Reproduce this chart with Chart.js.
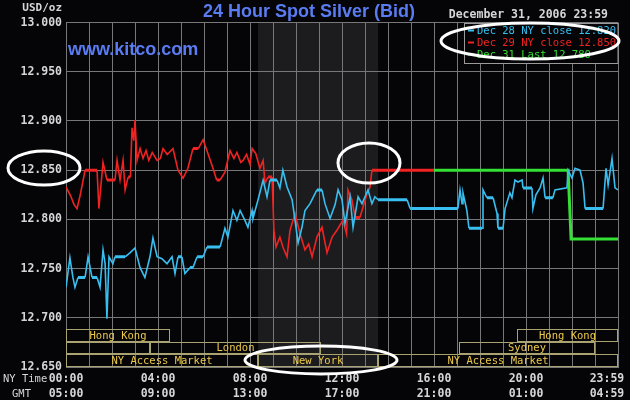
<!DOCTYPE html>
<html>
<head>
<meta charset="utf-8">
<title>24 Hour Spot Silver (Bid)</title>
<script src="https://cdn.jsdelivr.net/npm/chart.js@4.4.1/dist/chart.umd.min.js"></script>
<style>
	html, body { margin: 0; padding: 0; background: #050508; }
</style>
</head>
<body>
<canvas id="silverChart" width="630" height="400"></canvas>
<script>
// Axis labels (NY time and GMT, every 4 hours)
const nyTimeLabels = [ '00:00', '04:00', '08:00', '12:00', '16:00', '20:00', '23:59' ];
const gmtLabels = [ '05:00', '09:00', '13:00', '17:00', '21:00', '01:00', '04:59' ];
const priceMin = 12.65;
const priceMax = 13.0;
const priceStep = 0.05;

// Series: [hour of NY day, price]
const dec28Prices = [
	[ 0.00, 12.731 ], [ 0.17, 12.761 ], [ 0.30, 12.741 ], [ 0.39, 12.731 ], [ 0.52, 12.741 ],
	[ 0.83, 12.741 ], [ 0.96, 12.762 ], [ 1.13, 12.741 ], [ 1.35, 12.741 ], [ 1.48, 12.731 ],
	[ 1.61, 12.769 ], [ 1.70, 12.755 ], [ 1.78, 12.699 ], [ 1.87, 12.762 ], [ 2.04, 12.755 ],
	[ 2.13, 12.762 ], [ 2.57, 12.762 ], [ 2.78, 12.766 ], [ 3.00, 12.771 ], [ 3.22, 12.751 ],
	[ 3.43, 12.741 ], [ 3.65, 12.762 ], [ 3.78, 12.781 ], [ 3.96, 12.762 ], [ 4.17, 12.760 ],
	[ 4.39, 12.755 ], [ 4.61, 12.762 ], [ 4.74, 12.745 ], [ 4.87, 12.762 ], [ 5.04, 12.762 ],
	[ 5.17, 12.745 ], [ 5.39, 12.751 ], [ 5.52, 12.751 ], [ 5.70, 12.762 ], [ 5.96, 12.762 ],
	[ 6.13, 12.772 ], [ 6.70, 12.772 ], [ 6.91, 12.791 ], [ 7.04, 12.782 ], [ 7.26, 12.809 ],
	[ 7.43, 12.799 ], [ 7.57, 12.809 ], [ 7.78, 12.799 ], [ 7.91, 12.792 ], [ 8.09, 12.809 ],
	[ 8.13, 12.801 ], [ 8.35, 12.820 ], [ 8.57, 12.840 ], [ 8.74, 12.823 ], [ 8.87, 12.840 ],
	[ 9.17, 12.840 ], [ 9.30, 12.832 ], [ 9.43, 12.850 ], [ 9.61, 12.833 ], [ 9.83, 12.820 ],
	[ 9.96, 12.799 ], [ 10.09, 12.776 ], [ 10.26, 12.792 ], [ 10.39, 12.809 ], [ 10.61, 12.816 ],
	[ 10.91, 12.830 ], [ 11.13, 12.830 ], [ 11.26, 12.816 ], [ 11.48, 12.801 ], [ 11.70, 12.815 ],
	[ 11.83, 12.830 ], [ 12.00, 12.820 ], [ 12.13, 12.796 ], [ 12.35, 12.823 ], [ 12.48, 12.792 ],
	[ 12.70, 12.823 ], [ 12.87, 12.816 ], [ 13.00, 12.823 ], [ 13.13, 12.830 ], [ 13.30, 12.816 ],
	[ 13.43, 12.823 ], [ 13.57, 12.820 ], [ 14.83, 12.820 ], [ 14.96, 12.811 ], [ 17.04, 12.811 ],
	[ 17.13, 12.830 ], [ 17.22, 12.816 ], [ 17.26, 12.827 ], [ 17.43, 12.809 ], [ 17.52, 12.791 ],
	[ 18.09, 12.791 ], [ 18.13, 12.830 ], [ 18.30, 12.822 ], [ 18.57, 12.822 ], [ 18.74, 12.806 ],
	[ 18.78, 12.791 ], [ 19.00, 12.791 ], [ 19.09, 12.811 ], [ 19.30, 12.827 ], [ 19.39, 12.822 ],
	[ 19.52, 12.840 ], [ 19.65, 12.838 ], [ 19.83, 12.840 ], [ 19.87, 12.832 ], [ 20.26, 12.832 ],
	[ 20.30, 12.811 ], [ 20.43, 12.825 ], [ 20.61, 12.832 ], [ 20.74, 12.842 ], [ 20.83, 12.822 ],
	[ 21.17, 12.822 ], [ 21.26, 12.830 ], [ 21.78, 12.832 ], [ 21.83, 12.850 ], [ 22.00, 12.842 ],
	[ 22.13, 12.852 ], [ 22.35, 12.850 ], [ 22.48, 12.837 ], [ 22.57, 12.811 ], [ 23.35, 12.811 ],
	[ 23.48, 12.852 ], [ 23.57, 12.835 ], [ 23.74, 12.862 ], [ 23.87, 12.832 ], [ 24.00, 12.830 ],
];
const dec29Prices = [
	[ 0.00, 12.833 ], [ 0.20, 12.824 ], [ 0.35, 12.815 ], [ 0.48, 12.811 ], [ 0.62, 12.825 ],
	[ 0.83, 12.850 ], [ 1.35, 12.850 ], [ 1.43, 12.811 ], [ 1.52, 12.835 ], [ 1.61, 12.858 ],
	[ 1.78, 12.840 ], [ 2.13, 12.840 ], [ 2.22, 12.860 ], [ 2.35, 12.840 ], [ 2.48, 12.860 ],
	[ 2.57, 12.830 ], [ 2.70, 12.843 ], [ 2.80, 12.843 ], [ 2.87, 12.893 ], [ 2.95, 12.880 ],
	[ 3.00, 12.901 ], [ 3.09, 12.860 ], [ 3.22, 12.872 ], [ 3.35, 12.862 ], [ 3.48, 12.870 ],
	[ 3.60, 12.860 ], [ 3.75, 12.868 ], [ 3.96, 12.860 ], [ 4.10, 12.862 ], [ 4.22, 12.872 ],
	[ 4.40, 12.866 ], [ 4.65, 12.872 ], [ 4.87, 12.850 ], [ 5.09, 12.842 ], [ 5.30, 12.852 ],
	[ 5.52, 12.872 ], [ 5.75, 12.872 ], [ 5.96, 12.881 ], [ 6.17, 12.867 ], [ 6.39, 12.852 ],
	[ 6.55, 12.840 ], [ 6.70, 12.840 ], [ 6.91, 12.848 ], [ 7.13, 12.870 ], [ 7.30, 12.862 ],
	[ 7.43, 12.868 ], [ 7.60, 12.858 ], [ 7.70, 12.860 ], [ 7.85, 12.866 ], [ 8.00, 12.856 ],
	[ 8.09, 12.872 ], [ 8.25, 12.867 ], [ 8.43, 12.852 ], [ 8.57, 12.860 ], [ 8.65, 12.837 ],
	[ 8.78, 12.843 ], [ 8.96, 12.843 ], [ 9.04, 12.789 ], [ 9.13, 12.772 ], [ 9.30, 12.782 ],
	[ 9.43, 12.772 ], [ 9.61, 12.762 ], [ 9.74, 12.789 ], [ 9.96, 12.806 ], [ 10.17, 12.786 ],
	[ 10.39, 12.769 ], [ 10.55, 12.775 ], [ 10.70, 12.762 ], [ 10.91, 12.782 ], [ 11.13, 12.792 ],
	[ 11.35, 12.766 ], [ 11.57, 12.782 ], [ 11.78, 12.789 ], [ 12.04, 12.799 ], [ 12.20, 12.785 ],
	[ 12.26, 12.830 ], [ 12.43, 12.820 ], [ 12.57, 12.802 ], [ 12.78, 12.802 ], [ 12.91, 12.812 ],
	[ 13.09, 12.826 ], [ 13.22, 12.833 ], [ 13.30, 12.850 ], [ 16.00, 12.850 ],
];
const dec31Prices = [
	[ 16.00, 12.850 ], [ 21.83, 12.850 ], [ 21.96, 12.780 ], [ 24.00, 12.780 ],
];

const legendLabels = [ 'Dec 28 NY close 12.820', 'Dec 29 NY close 12.850', 'Dec 31 Last 12.780' ];
const seriesColors = [ '#38bff0', '#f02222', '#33e033' ];

// Trading sessions shown along the bottom (row 0 = bottom)
const sessionNames = [ 'Hong Kong', 'Hong Kong', '', 'London', 'Sydney', 'NY Access Market', 'New York', 'NY Access Market' ];
const sessionRows = [ 2, 2, 1, 1, 1, 0, 0, 0 ];
const sessionStart = [ 0, 19.6, 0, 3.65, 17.1, 0, 8.35, 13.57 ];
const sessionEnd = [ 4.52, 24, 3.65, 11.1, 23.0, 8.35, 13.57, 24 ];
const nySession = [ 8.35, 13.57 ];

const monoFont = '"DejaVu Sans Mono", "Liberation Mono", monospace';
const gridColor = '#777777';

// flat runs of the price trace look heavier than the moving parts
const traceWidth = ( c ) => ( c.p0.parsed.y === c.p1.parsed.y ? 3 : 1.6 );

const kitcoExtras = {
	id: 'kitcoExtras',
	beforeDraw( chart ) {
		const { ctx, chartArea: a } = chart;
		const x = chart.scales.x;
		ctx.save();
		ctx.fillStyle = '#050508';
		ctx.fillRect( 0, 0, chart.width, chart.height );
		const s = x.getPixelForValue( nySession[ 0 ] );
		const e = x.getPixelForValue( nySession[ 1 ] );
		ctx.fillStyle = '#1c1c1e';
		ctx.fillRect( s, a.top, e - s, a.bottom - a.top );
		ctx.restore();
	},
	beforeDatasetsDraw( chart ) {
		const { ctx, chartArea: a } = chart;
		const x = chart.scales.x;
		const rowH = 12.7;
		ctx.save();
		ctx.strokeStyle = '#a9a271';
		ctx.lineWidth = 1;
		ctx.fillStyle = '#ecc94a';
		ctx.font = '10.5px ' + monoFont;
		ctx.textAlign = 'center';
		ctx.textBaseline = 'middle';
		sessionNames.forEach( ( name, i ) => {
			const x0 = Math.round( x.getPixelForValue( sessionStart[ i ] ) ) + 0.5;
			const x1 = Math.round( x.getPixelForValue( sessionEnd[ i ] ) ) - 0.5;
			const y0 = Math.round( a.bottom - ( sessionRows[ i ] + 1 ) * rowH ) + 0.5;
			const y1 = Math.round( a.bottom - sessionRows[ i ] * rowH ) - 0.5;
			ctx.strokeRect( x0, y0, x1 - x0, y1 - y0 );
			if ( name ) {
				ctx.fillText( name, ( x0 + x1 ) / 2, ( y0 + y1 ) / 2 + 0.5 );
			}
		} );
		ctx.restore();
	},
	afterDraw( chart ) {
		const { ctx, chartArea: a } = chart;
		ctx.save();

		// Header texts
		ctx.fillStyle = '#d6d6d6';
		ctx.textBaseline = 'middle';
		ctx.font = 'bold 11px ' + monoFont;
		ctx.textAlign = 'right';
		ctx.fillText( 'USD/oz', 62, 8 );
		ctx.font = 'bold 11.5px ' + monoFont;
		ctx.fillText( 'December 31, 2006 23:59', 608, 15 );
		ctx.font = '10.5px ' + monoFont;
		ctx.textAlign = 'left';
		ctx.fillText( 'NY Time', 3, 379 );
		ctx.fillText( 'GMT', 12, 394 );

		ctx.fillStyle = '#5a7cf2';
		ctx.font = 'bold 18px "Liberation Sans", Arial, sans-serif';
		ctx.fillText( 'www.kitco.com', 68, 50 );

		// Legend box
		const bx = 464.5;
		const by = Math.round( a.top ) + 0.5;
		ctx.strokeStyle = '#9a9a9a';
		ctx.lineWidth = 1;
		ctx.fillStyle = '#050508';
		ctx.fillRect( bx, by, a.right - bx, 40 );
		ctx.strokeRect( bx, by, a.right - bx, 40 );
		ctx.font = '10.5px ' + monoFont;
		legendLabels.forEach( ( label, i ) => {
			const ly = by + 7 + i * 12;
			ctx.fillStyle = seriesColors[ i ];
			ctx.fillRect( 468, ly - 1, 6, 2 );
			ctx.fillText( label, 477, ly + 0.5 );
		} );

		// White highlight ellipses
		ctx.strokeStyle = '#ffffff';
		ctx.lineWidth = 3;
		[
			[ 530, 41, 89, 18 ],
			[ 44, 168, 36, 17 ],
			[ 369, 163, 31, 20 ],
			[ 321, 360, 76, 14 ],
		].forEach( ( [ cx, cy, rx, ry ] ) => {
			ctx.beginPath();
			ctx.ellipse( cx, cy, rx, ry, 0, 0, Math.PI * 2 );
			ctx.stroke();
		} );
		ctx.restore();
	},
};

new Chart( document.getElementById( 'silverChart' ).getContext( '2d' ), {
	type: 'line',
	data: {
		datasets: [
			{
				label: legendLabels[ 0 ],
				data: dec28Prices,
				borderColor: seriesColors[ 0 ],
				borderWidth: 1.6,
				segment: { borderWidth: traceWidth },
			},
			{
				label: legendLabels[ 1 ],
				data: dec29Prices,
				borderColor: seriesColors[ 1 ],
				borderWidth: 1.6,
				segment: { borderWidth: traceWidth },
			},
			{
				label: legendLabels[ 2 ],
				data: dec31Prices,
				borderColor: seriesColors[ 2 ],
				borderWidth: 3,
			},
		],
	},
	options: {
		responsive: false,
		devicePixelRatio: 1,
		animation: false,
		layout: { padding: { left: 0, right: 12, top: 0, bottom: 0 } },
		elements: {
			point: { radius: 0 },
			line: { tension: 0, borderJoinStyle: 'miter' },
		},
		plugins: {
			legend: { display: false },
			tooltip: { enabled: false },
			title: {
				display: true,
				text: '24 Hour Spot Silver (Bid)',
				color: '#5a7cf2',
				font: { family: '"Liberation Sans", Arial, sans-serif', size: 18, weight: 'bold' },
				padding: { top: 1, bottom: 0 },
			},
		},
		scales: {
			x: {
				type: 'linear',
				min: 0,
				max: 24,
				afterBuildTicks( scale ) {
					const ticks = [];
					for ( let h = 0; h <= 24; h++ ) {
						ticks.push( { value: h } );
					}
					// last label (23:59) sits just inside the right edge
					ticks.splice( 24, 0, { value: 23.52 } );
					scale.ticks = ticks;
				},
				afterFit( scale ) {
					scale.height = 33;
				},
				grid: {
					color: ( c ) => ( c.tick && Number.isInteger( c.tick.value ) ? gridColor : 'rgba(0,0,0,0)' ),
					drawTicks: false,
				},
				border: { color: gridColor },
				ticks: {
					autoSkip: false,
					maxRotation: 0,
					minRotation: 0,
					padding: 5,
					color: '#d6d6d6',
					font: { family: monoFont, size: 11.5, weight: 'bold', lineHeight: 1.25 },
					callback( value ) {
						if ( value === 23.52 ) {
							return [ nyTimeLabels[ 6 ], gmtLabels[ 6 ] ];
						}
						if ( value % 4 === 0 && value < 24 ) {
							return [ nyTimeLabels[ value / 4 ], gmtLabels[ value / 4 ] ];
						}
						return '';
					},
				},
			},
			y: {
				min: priceMin,
				max: priceMax,
				afterFit( scale ) {
					scale.width = 66;
				},
				grid: { color: gridColor, drawTicks: false },
				border: { color: gridColor },
				ticks: {
					stepSize: priceStep,
					padding: 4,
					color: '#d6d6d6',
					font: { family: monoFont, size: 11.5, weight: 'bold' },
					callback: ( v ) => v.toFixed( 3 ),
				},
			},
		},
	},
	plugins: [ kitcoExtras ],
} );
</script>
</body>
</html>
